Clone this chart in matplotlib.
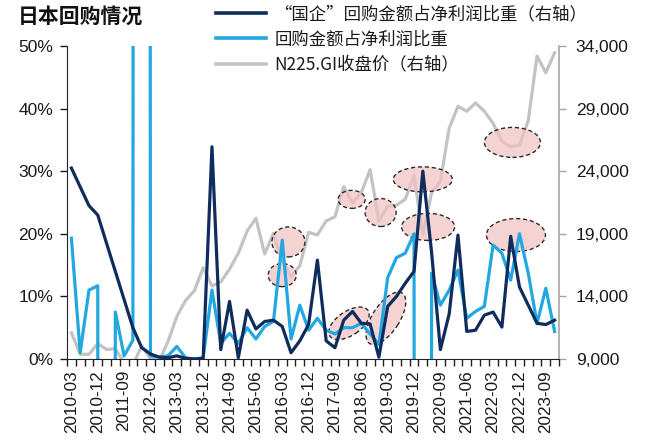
import matplotlib
matplotlib.use('Agg')
import matplotlib.pyplot as plt
import numpy as np
from matplotlib.patches import Ellipse
from matplotlib.lines import Line2D

plt.rcParams['font.family'] = ['Liberation Sans', 'Noto Sans CJK SC']

quarters = [
    '2010-03', '2010-06', '2010-09', '2010-12', '2011-03', '2011-06', '2011-09', '2011-12',
    '2012-03', '2012-06', '2012-09', '2012-12', '2013-03', '2013-06', '2013-09', '2013-12',
    '2014-03', '2014-06', '2014-09', '2014-12', '2015-03', '2015-06', '2015-09', '2015-12',
    '2016-03', '2016-06', '2016-09', '2016-12', '2017-03', '2017-06', '2017-09', '2017-12',
    '2018-03', '2018-06', '2018-09', '2018-12', '2019-03', '2019-06', '2019-09', '2019-12',
    '2020-03', '2020-06', '2020-09', '2020-12', '2021-03', '2021-06', '2021-09', '2021-12',
    '2022-03', '2022-06', '2022-09', '2022-12', '2023-03', '2023-06', '2023-09', '2023-12',
]

# "国企"回购金额占净利润比重 (%)
soe_ratio = [
    30.5, 27.5, 24.5, 23.0, 18.5, 14.0, 9.5, 5.0,
    1.8, 0.8, 0.3, 0.2, 0.5, 0.1, 0.0, 0.1,
    33.9, 1.5, 9.2, 0.2, 7.8, 4.8, 6.0, 6.2,
    5.2, 1.0, 2.9, 5.5, 15.8, 2.9, 1.8, 6.2,
    7.6, 5.7, 5.6, 0.3, 8.4, 10.0, 12.1, 14.0,
    30.0, 17.0, 1.5, 7.2, 19.8, 4.4, 4.6, 7.0,
    7.5, 5.1, 19.6, 11.5, 8.6, 5.7, 5.5, 6.2,
]

# 回购金额占净利润比重 (%) -- extreme values run off the chart
all_ratio = [
    19.3, 1.0, 11.0, 11.7, -2000.0, 7.5, 0.5, 3.0,
    2000.0, 0.5, 0.3, 0.5, 2.0, 0.2, 0.0, 0.2,
    11.0, 2.5, 4.1, 2.5, 5.0, 3.2, 5.2, 6.0,
    19.0, 3.2, 8.6, 4.6, 6.5, 4.6, 4.0, 5.0,
    5.0, 5.7, 4.0, 2.3, 13.0, 16.2, 16.9, 20.0,
    -2000.0, 13.7, 8.6, 11.0, 14.2, 6.5, 7.6, 8.4,
    18.2, 16.9, 12.6, 20.0, 13.7, 5.7, 11.3, 4.4,
]

# N225.GI 收盘价
n225 = [
    11090, 9380, 9370, 10230, 9760, 9820, 8700, 8460,
    10080, 9010, 8870, 10400, 12400, 13680, 14460, 16290,
    14830, 15160, 16170, 17450, 19210, 20240, 17390, 19030,
    16760, 15580, 16450, 19110, 18910, 20030, 20360, 22760,
    21450, 22300, 24120, 20010, 21210, 21280, 21760, 23660,
    18920, 22290, 23190, 27440, 29180, 28790, 29450, 28790,
    27820, 26390, 25940, 26090, 28040, 33190, 31860, 33460,
]

tick_labels = quarters[::3]
left_ticks = [0, 10, 20, 30, 40, 50]
right_ticks = [9000, 14000, 19000, 24000, 29000, 34000]

legend_labels = ['“国企”回购金额占净利润比重（右轴）', '回购金额占净利润比重', 'N225.GI收盘价（右轴）']

# highlight ellipses: (category index, left-axis value, width px, height px, angle)
highlights = [
    (24.7, 18.7, 33, 30, 0),
    (24.0, 13.4, 28, 23, 0),
    (31.9, 25.5, 27, 18, 0),
    (35.2, 23.4, 31, 28, 0),
    (40.0, 28.7, 59, 25, 0),
    (40.6, 21.1, 53, 27, 0),
    (50.2, 34.6, 56, 30, 0),
    (50.6, 19.8, 59, 33, 0),
    (31.6, 5.7, 46, 24, 34),
    (35.8, 6.5, 60, 27, 57),
]

DARK = '#0f2c5e'
LIGHT = '#22a8e0'
GREY = '#c3c3c3'
TXT = '#1a1a1a'

W, H = 645, 443
fig = plt.figure(figsize=(W / 100, H / 100), dpi=100)
L, R, T, B = 67, 559, 46, 359
ax = fig.add_axes([L / W, 1 - B / H, (R - L) / W, (B - T) / H])
ax2 = ax.twinx()

x = np.arange(len(quarters))
ax2.plot(x, n225, color=GREY, lw=2.3, solid_joinstyle='round')
ax.plot(x, all_ratio, color=LIGHT, lw=2.3, solid_joinstyle='round')
ax.plot(x, soe_ratio, color=DARK, lw=2.3, solid_joinstyle='round')

ax.set_zorder(ax2.get_zorder() + 1)
ax.patch.set_visible(False)

ax.set_xlim(-0.5, len(x) - 0.5)
ax.set_ylim(0, 50)
ax2.set_ylim(9000, 34000)

ax.set_yticks(left_ticks)
ax.set_yticklabels([f'{v}%' for v in left_ticks])
ax2.set_yticks(right_ticks)
ax2.set_yticklabels([f'{v:,}' for v in right_ticks])

ax.set_xticks(x[::3])
ax.set_xticklabels(tick_labels, rotation=90)
ax.set_xticks(np.arange(-0.5, len(x), 1), minor=True)
ax.tick_params(axis='x', which='major', length=0, pad=8, labelsize=12.3, colors=TXT)
ax.tick_params(axis='x', which='minor', length=5, width=1, color='#222222', direction='out')
ax.tick_params(axis='y', length=5, width=1, pad=5, labelsize=12.5, colors=TXT)
ax2.tick_params(axis='y', length=5, width=1, pad=7, labelsize=12.5, colors=TXT, color='#a6a6a6')

for s in ['top', 'right']:
    ax.spines[s].set_visible(False)
for s in ['top', 'left', 'bottom']:
    ax2.spines[s].set_visible(False)
ax.spines['left'].set_color('#222222')
ax.spines['bottom'].set_color('#222222')
ax2.spines['right'].set_color('#a6a6a6')
ax2.spines['right'].set_linewidth(1.2)

# overlay for highlight ellipses, in pixel space
ov = fig.add_axes([0, 0, 1, 1])
ov.set_xlim(0, W)
ov.set_ylim(0, H)
ov.axis('off')
ov.patch.set_visible(False)
for xi, yv, w, h, ang in highlights:
    cx, cy = ax.transData.transform((xi, yv))
    ov.add_patch(Ellipse((cx, cy), w, h, angle=ang, facecolor=(0.95, 0.76, 0.76, 0.72),
                         edgecolor='#2a2a2a', lw=1.0, linestyle=(0, (3, 2))))

handles = [Line2D([], [], color=DARK, lw=2.6),
           Line2D([], [], color=LIGHT, lw=2.6),
           Line2D([], [], color=GREY, lw=2.6)]
leg = fig.legend(handles, legend_labels, loc='upper left', bbox_to_anchor=(216 / W, 1 - 5 / H),
                 frameon=False, prop={'family': ['Noto Sans CJK SC', 'Liberation Sans'], 'size': 12.5},
                 handlelength=2.9, handletextpad=0.45,
                 labelspacing=0.42, borderpad=0, borderaxespad=0)
for t in leg.get_texts():
    t.set_color(TXT)

fig.text(18 / W, 1 - 17 / H, '日本回购情况', fontsize=15, fontweight='bold', va='center', ha='left',
         color='#111111')

fig.savefig('out.png', dpi=100)
